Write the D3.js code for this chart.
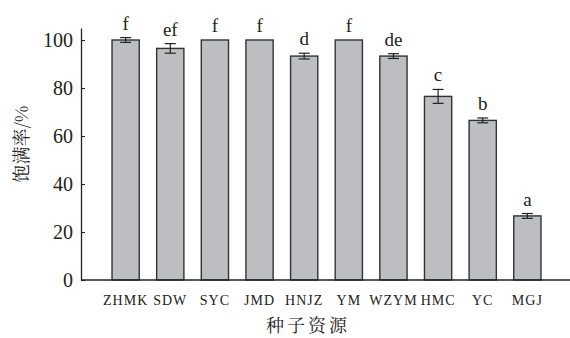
<!DOCTYPE html>
<html>
<head>
<meta charset="utf-8">
<script src="https://cdn.jsdelivr.net/npm/d3@7"></script>
<style>
	body { margin: 0; background: #fff; }
	svg text { fill: #222; }
</style>
</head>
<body>
<svg id="chart" width="570" height="338"></svg>
<script>
(function() {

	// data
	var sources = ['ZHMK', 'SDW', 'SYC', 'JMD', 'HNJZ', 'YM', 'WZYM', 'HMC', 'YC', 'MGJ'];
	var fullness = [100, 96.5, 100, 100, 93.3, 100, 93.3, 76.5, 66.5, 26.7];
	var errors = [1, 2, 0, 0, 1.2, 0, 1, 2.9, 1, 1];
	var letters = ['f', 'ef', 'f', 'f', 'd', 'f', 'de', 'c', 'b', 'a'];
	var yTicks = [0, 20, 40, 60, 80, 100];

	var SERIF = "'Liberation Serif', 'Times New Roman', Tinos, 'Noto Serif', 'Noto Serif CJK SC', 'DejaVu Serif', serif";
	var CJK = "'Noto Serif CJK SC', 'Noto Sans CJK SC', sans-serif";
	var LEFT = 81, RIGHT = 572, BOTTOM = 280;
	var svg = d3.select('#chart');

	var x = d3.scaleBand().domain(sources).range([LEFT, RIGHT]).paddingInner(0.39).paddingOuter(0.695);
	var y = d3.scaleLinear().domain([0, 105]).range([BOTTOM, BOTTOM - 105 * 2.4]);

	var rows = sources.map(function(s, i) {
		return {name: s, value: fullness[i], err: errors[i], letter: letters[i]};
	});
	function mid(d) { return x(d.name) + x.bandwidth() / 2; }

	// bars
	svg.append('g').selectAll('rect').data(rows).enter().append('rect')
		.attr('x', function(d) { return x(d.name); })
		.attr('y', function(d) { return y(d.value); })
		.attr('width', x.bandwidth())
		.attr('height', function(d) { return y(0) - y(d.value); })
		.attr('fill', '#bdbec2')
		.attr('stroke', '#333')
		.attr('stroke-width', 1.4);

	// error bars
	var eb = svg.append('g').attr('stroke', '#222').attr('stroke-width', 1.2)
		.selectAll('g').data(rows.filter(function(d) { return d.err > 0; })).enter().append('g');
	eb.append('line')
		.attr('x1', mid).attr('x2', mid)
		.attr('y1', function(d) { return y(d.value + d.err); })
		.attr('y2', function(d) { return y(d.value - d.err); });
	[1, -1].forEach(function(sign) {
		eb.append('line')
			.attr('x1', function(d) { return mid(d) - 5.5; })
			.attr('x2', function(d) { return mid(d) + 5.5; })
			.attr('y1', function(d) { return y(d.value + sign * d.err); })
			.attr('y2', function(d) { return y(d.value + sign * d.err); });
	});

	// significance letters
	svg.append('g').selectAll('text').data(rows).enter().append('text')
		.attr('x', mid)
		.attr('y', function(d) { return y(d.value + d.err) - 8; })
		.attr('text-anchor', 'middle')
		.attr('font-family', SERIF)
		.attr('font-size', 19)
		.text(function(d) { return d.letter; });

	// y axis, ticks pointing inward
	var yAxis = svg.append('g').attr('transform', 'translate(' + LEFT + ',0)')
		.call(d3.axisRight(y).tickValues(yTicks).tickSize(4).tickSizeOuter(0))
		.attr('font-family', SERIF)
		.attr('font-size', 20);
	yAxis.select('.domain').attr('stroke', '#222').attr('stroke-width', 1.3);
	yAxis.selectAll('.tick line').attr('stroke', '#222').attr('stroke-width', 1.1);
	yAxis.selectAll('.tick text')
		.attr('x', -8).attr('dy', '0.33em')
		.attr('text-anchor', 'end')
		.attr('fill', '#222');

	// x axis line and labels
	svg.append('line')
		.attr('x1', LEFT).attr('x2', 570)
		.attr('y1', y(0)).attr('y2', y(0))
		.attr('stroke', '#222').attr('stroke-width', 1.3);
	svg.append('g').selectAll('text').data(sources).enter().append('text')
		.attr('x', function(d) { return x(d) + x.bandwidth() / 2; })
		.attr('y', 305)
		.attr('text-anchor', 'middle')
		.attr('font-family', SERIF)
		.attr('font-size', 14)
		.attr('letter-spacing', 1)
		.text(function(d) { return d; });

	// titles
	svg.append('text')
		.attr('x', 308).attr('y', 332)
		.attr('text-anchor', 'middle')
		.attr('font-family', CJK)
		.attr('font-size', 18).attr('letter-spacing', 3)
		.text('种子资源');
	svg.append('text')
		.attr('transform', 'translate(28,144) rotate(-90)')
		.attr('text-anchor', 'middle')
		.attr('font-family', CJK)
		.attr('font-size', 18)
		.text('饱满率/%');
}());
</script>
</body>
</html>
